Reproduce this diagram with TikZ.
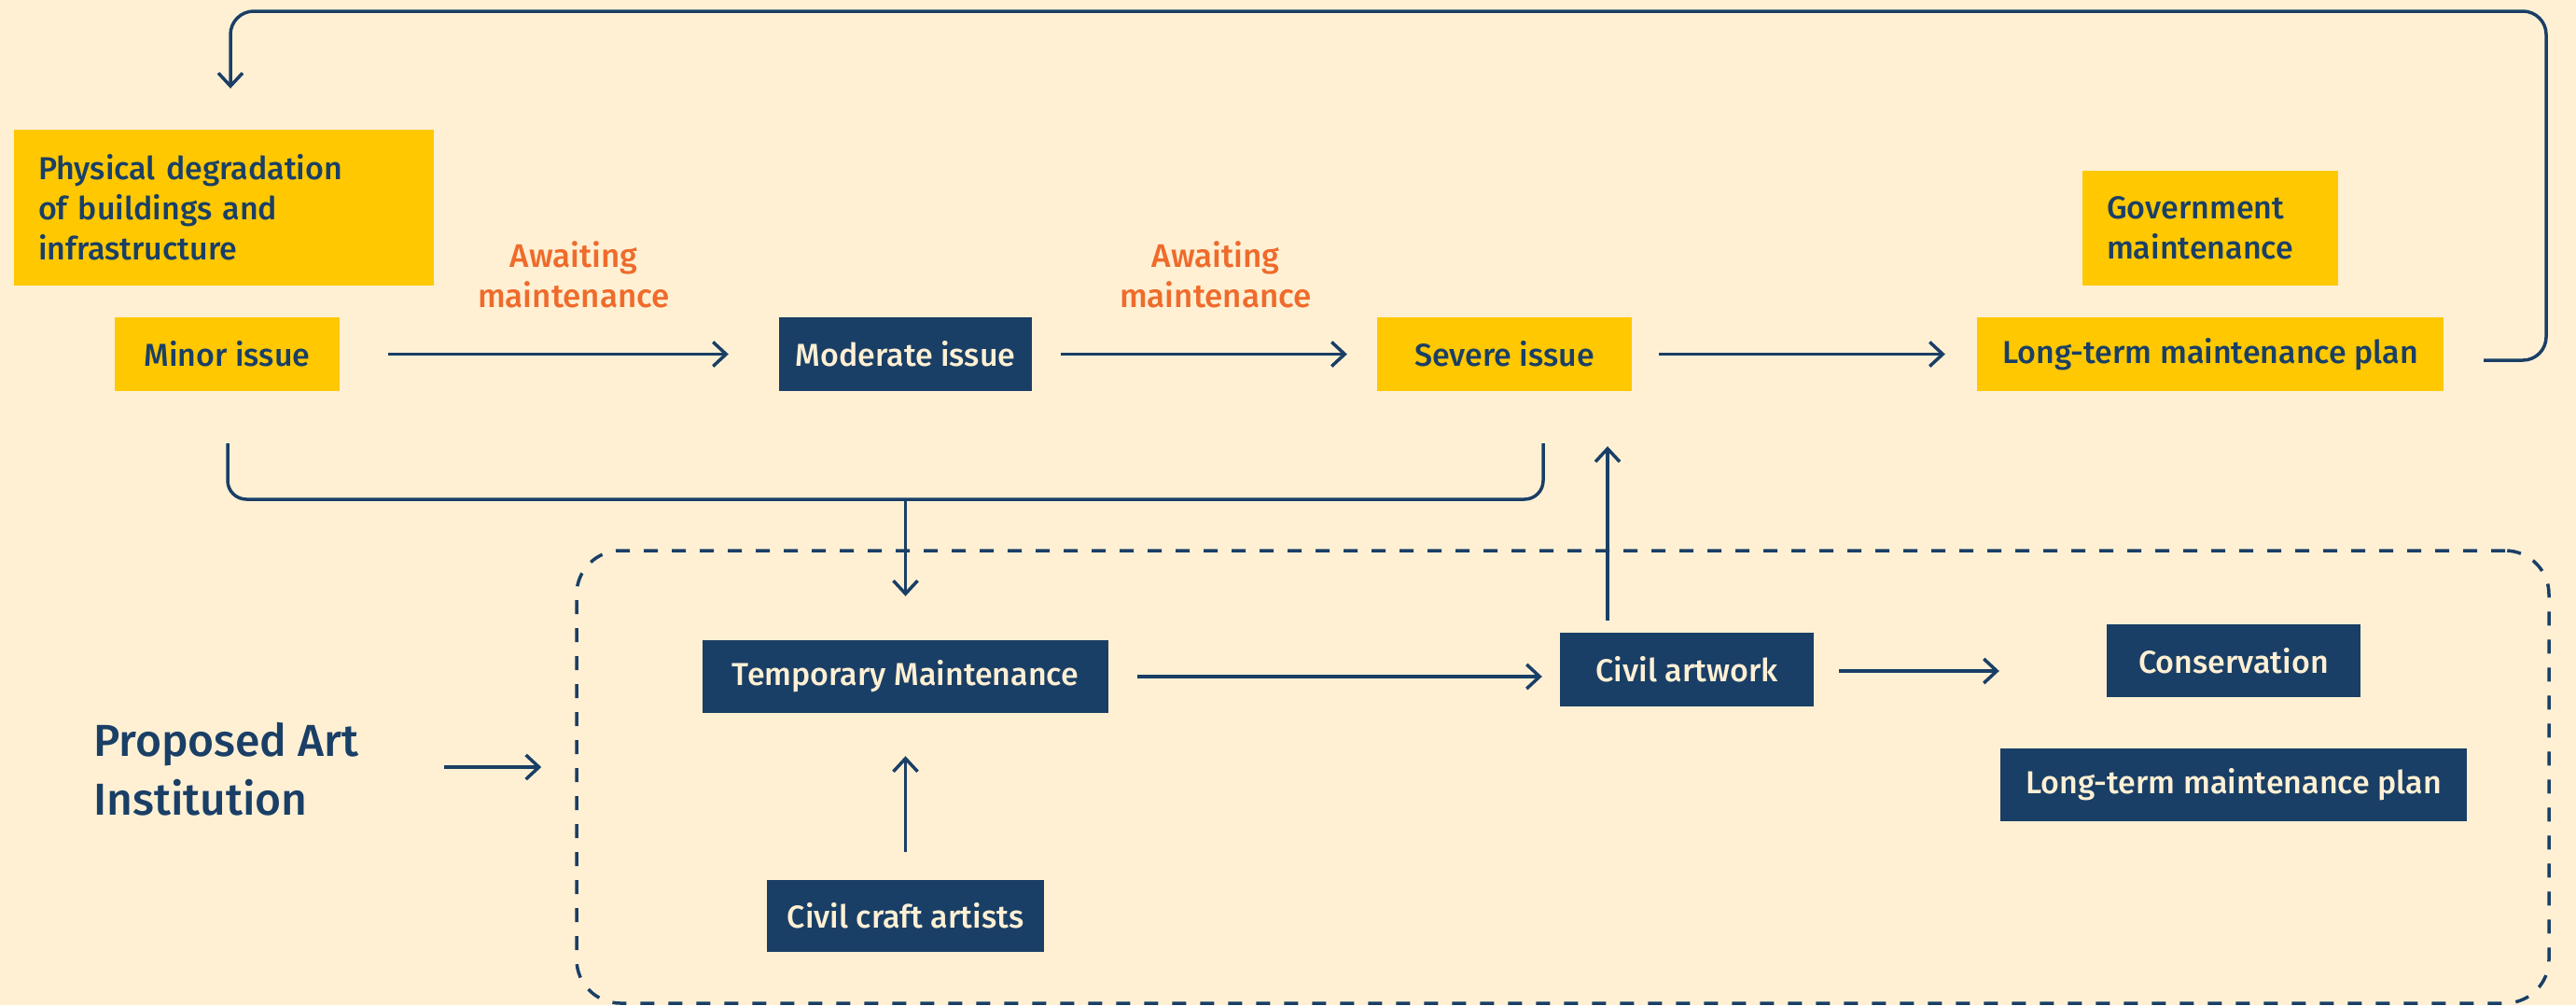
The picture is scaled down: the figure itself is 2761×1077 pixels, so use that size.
\documentclass[tikz,border=0pt]{standalone}
\usepackage{fontspec}
\IfFontExistsTF{Fira Sans Medium}{\setmainfont{Fira Sans Medium}}{\setmainfont{Fira Sans}}
\usetikzlibrary{arrows.meta,calc}
\definecolor{bg}{HTML}{FFF0D4}
\definecolor{navy}{HTML}{1A3F66}
\definecolor{gold}{HTML}{FFC800}
\definecolor{orng}{HTML}{EF6B2B}
\definecolor{cream}{HTML}{FFF0D4}
\tikzset{
  box/.style={inner sep=0pt, minimum height=79pt, font=\fontsize{34}{43}\selectfont, align=center},
  ybox/.style={box, fill=gold, text=navy},
  nbox/.style={box, fill=navy, text=cream},
  lbl/.style={text=orng, inner sep=0pt, font=\fontsize{35}{43}\selectfont, align=center},
  arr/.style={draw=navy, line width=3.5pt, -{Straight Barb[length=14pt,width=26pt]}},
  ln/.style={draw=navy, line width=3.5pt},
}
\begin{document}
\begin{tikzpicture}[x=1pt,y=-1pt]
\fill[bg] (0,0) rectangle (2761,1077);
\useasboundingbox (0,0) rectangle (2761,1077);

% dashed institution frame
\node[draw=navy, line width=3.5pt, dash pattern=on 15pt off 15pt, rounded corners=47pt,
      minimum width=2114pt, minimum height=485pt, inner sep=0pt] (inst) at (1675,832.5) {};

% top row
\node[ybox, minimum width=450pt, minimum height=167pt, text width=398pt, align=left] (phys) at (240,222.5)
  {Physical degradation\\of buildings and\\infrastructure};
\node[ybox, minimum width=241pt] (minor) at (243.5,379.5) {Minor issue};
\node[nbox, minimum width=271pt] (moderate) at (970.5,379.5) {Moderate issue};
\node[ybox, minimum width=273pt] (severe) at (1612.5,379.5) {Severe issue};
\node[ybox, minimum width=500pt] (ltp1) at (2369,379.5) {Long-term maintenance plan};
\node[ybox, minimum width=274pt, minimum height=123pt, text width=222pt, align=left] (gov) at (2369,244.5)
  {Government\\maintenance};
\node[lbl] (aw1) at (615,294) {Awaiting\\maintenance};
\node[lbl] (aw2) at (1303,294) {Awaiting\\maintenance};

% lower part
\node[text=navy, font=\fontsize{48}{63}\selectfont, align=left, anchor=west, inner sep=0pt] (prop) at (100,824)
  {Proposed Art\\Institution};
\node[nbox, minimum width=435pt, minimum height=78pt] (temp) at (970.5,725) {Temporary Maintenance};
\node[nbox, minimum width=272pt] (civ) at (1808,717.5) {Civil artwork};
\node[nbox, minimum width=272pt, minimum height=78pt] (cons) at (2394,708) {Conservation};
\node[nbox, minimum width=500pt, minimum height=78pt] (ltp2) at (2394,841) {Long-term maintenance plan};
\node[nbox, minimum width=297pt, minimum height=77pt] (craft) at (970.5,981.5) {Civil craft artists};

% connectors, top row
\draw[arr, shorten <=52pt, shorten >=54pt] (minor) -- (moderate);
\draw[arr, shorten <=31pt, shorten >=32pt] (moderate) -- (severe);
\draw[arr, shorten <=29pt, shorten >=34pt] (severe) -- (ltp1);

% feedback loop
\coordinate (loopS) at ($(ltp1.east)+(43,6.5)$);
\coordinate (loopTR) at (2729,12);
\coordinate (loopE) at ($(phys.north)+(7,-44)$);
\draw[arr, rounded corners=25pt] (loopS) -| (loopTR) -| (loopE);

% bracket from minor / severe down to temporary maintenance
\coordinate (brL) at ($(minor.south)+(0.5,56)$);
\coordinate (brR) at (1654,535);
\draw[ln, rounded corners=20pt] (brL) |- (brR) -- ++(0,-60);
\draw[arr] (temp.north |- brR) -- ($(temp.north)+(0,-47)$);

% civil artwork up to severe issue
\draw[arr] ($(civ.north)+(-85,-13)$) -- ($(severe.south)+(110.5,59)$);

% lower row
\draw[arr] ($(temp.east)+(31,0)$) -- ($(civ.west |- temp.east)+(-19,0)$);
\draw[arr] ($(civ.east)+(27,1.5)$) -- ($(cons.west |- civ.east)+(-115,1.5)$);
\draw[arr] ($(inst.west)+(-140,-10.5)$) -- ($(inst.west)+(-36,-10.5)$);
\draw[arr] ($(craft.north)+(0,-30)$) -- ($(temp.south)+(0,46)$);
\end{tikzpicture}
\end{document}
